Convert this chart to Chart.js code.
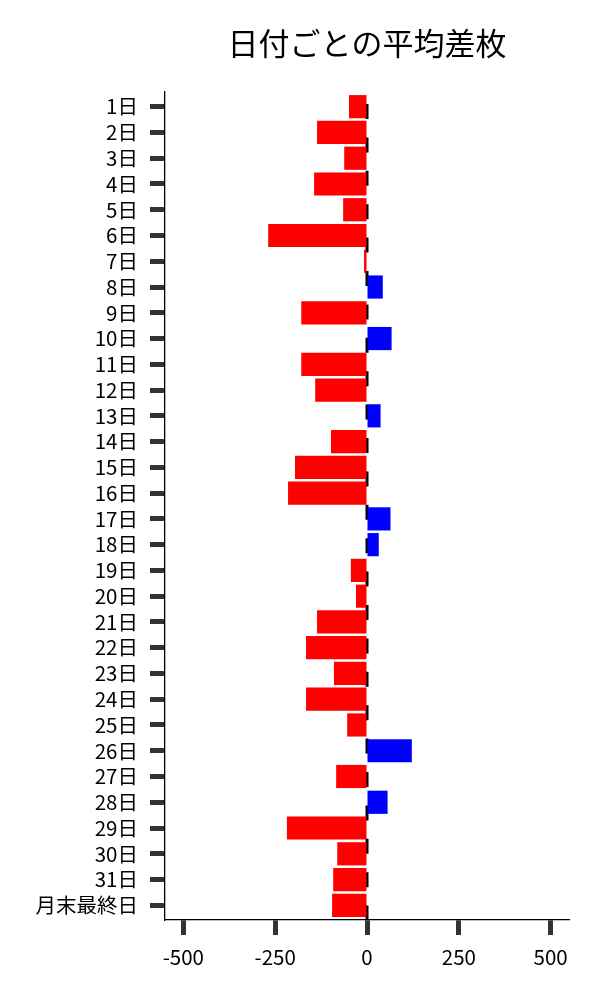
<!DOCTYPE html>
<html><head><meta charset="utf-8">
<script src="https://cdn.jsdelivr.net/npm/chart.js@4"></script>
<style>html,body{margin:0;padding:0;background:#fff}#wrap{width:600px;height:1000px}</style>
</head><body><div id="wrap"><canvas id="c"></canvas></div>
<script>
const titleText = '日付ごとの平均差枚';
const categories = ['1日','2日','3日','4日','5日','6日','7日','8日','9日','10日','11日','12日','13日','14日','15日','16日','17日','18日','19日','20日','21日','22日','23日','24日','25日','26日','27日','28日','29日','30日','31日','月末最終日'];
const values = [-49,-136,-62,-144,-65,-269,-8,43,-179,67,-179,-141,37,-98,-196,-215,64,32,-44,-30,-136,-166,-90,-166,-54,122,-84,56,-218,-81,-92,-95];
const xTicks = [-500,-250,0,250,500];

const FONT = "'Noto Sans CJK JP', 'Noto Sans', sans-serif";

const zeroLine = {
  id: 'zeroLine',
  beforeDatasetsDraw(chart) {
    const {ctx, chartArea, scales} = chart;
    const x = scales.x.getPixelForValue(0);
    ctx.save();
    ctx.strokeStyle = '#000';
    ctx.lineWidth = 3;
    ctx.setLineDash([15, 18.4]);
    ctx.lineDashOffset = 21.4;
    ctx.beginPath();
    ctx.moveTo(x, chartArea.top);
    ctx.lineTo(x, chartArea.bottom);
    ctx.stroke();
    ctx.restore();
  }
};

new Chart(document.getElementById('c'), {
  type: 'bar',
  data: {
    datasets: [{
      data: values.map((v, i) => ({x: v, y: i})),
      backgroundColor: values.map(v => v >= 0 ? '#0000ff' : '#ff0000'),
      borderWidth: 0,
      barPercentage: 0.9,
      categoryPercentage: 1.0
    }]
  },
  options: {
    indexAxis: 'y',
    responsive: true,
    maintainAspectRatio: false,
    animation: false,
    layout: {padding: {left: 0, right: 31, top: 0, bottom: 0}},
    plugins: {
      legend: {display: false},
      tooltip: {enabled: false},
      title: {
        display: true,
        text: titleText,
        fullSize: false,
        color: '#000',
        font: {family: FONT, size: 31, weight: 'normal', lineHeight: 1.2},
        padding: {top: 25, bottom: 29.8}
      }
    },
    scales: {
      x: {
        type: 'linear',
        min: -550,
        max: 550,
        afterBuildTicks: s => { s.ticks = xTicks.map(v => ({value: v})); },
        ticks: {color: '#000', font: {family: FONT, size: 20.5}, padding: 10, maxRotation: 0},
        grid: {drawOnChartArea: false, tickLength: 15, tickWidth: 5, tickColor: '#333'},
        border: {color: '#000', width: 1.3},
        afterFit: s => { s.height = 80; }
      },
      y: {
        type: 'linear',
        reverse: true,
        offset: false,
        min: -0.57,
        max: 31.57,
        afterBuildTicks: s => { s.ticks = categories.map((_, i) => ({value: i})); },
        ticks: {
          color: '#000',
          font: {family: FONT, size: 20.5},
          padding: 12,
          autoSkip: false,
          callback: v => categories[v]
        },
        grid: {offset: false, drawOnChartArea: false, tickLength: 15, tickWidth: 5, tickColor: '#333'},
        border: {color: '#000', width: 1.3},
        afterFit: s => { s.width = 165; }
      }
    }
  },
  plugins: [zeroLine]
});
</script>
</body></html>
